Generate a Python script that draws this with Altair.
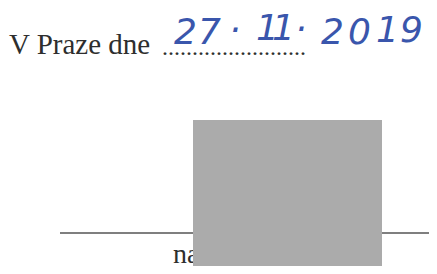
import altair as alt
import pandas as pd

# Printed text (serif, black)
print_labels = ["V Praze dne", "." * 24, "na"]
print_x = [9, 162, 173]
print_y = [54, 55, 263]
print_size = [29, 24, 28]

# Handwritten date "27. 11. 2019" (blue), one written glyph each
hand_labels = ["2", "7", "·", "1", "1", "·", "2", "0", "1", "9"]
hand_x = [174, 198, 229, 256, 272, 295, 321, 348, 376, 400]
hand_y = [44, 44, 42, 40, 40, 41, 44, 44, 42, 42]

# Signature line
line_x = [60]
line_x2 = [437]
line_y = [233]

# Redacted block
block_x = [193]
block_x2 = [382]
block_y = [120]
block_y2 = [274]

W, H = 437, 274
xs = alt.Scale(domain=[8, W - 8], range=[0, W - 16])
ys = alt.Scale(domain=[8, H - 8], range=[0, H - 16])
noax = None

df_print = pd.DataFrame({"t": print_labels, "x": print_x, "y": print_y, "s": print_size})
df_hand = pd.DataFrame({"t": hand_labels, "x": hand_x, "y": hand_y})
df_line = pd.DataFrame({"x": line_x, "x2": line_x2, "y": line_y})
df_block = pd.DataFrame({"x": block_x, "x2": block_x2, "y": block_y, "y2": block_y2})

line = alt.Chart(df_line).mark_rule(color="#555555", strokeWidth=1.5).encode(
    x=alt.X("x:Q", scale=xs, axis=noax),
    x2="x2:Q",
    y=alt.Y("y:Q", scale=ys, axis=noax),
)

printed = alt.Chart(df_print).mark_text(
    font="Liberation Serif", color="#2e2e2e", align="left", baseline="alphabetic"
).encode(
    x=alt.X("x:Q", scale=xs, axis=noax),
    y=alt.Y("y:Q", scale=ys, axis=noax),
    text="t:N",
    size=alt.Size("s:Q", scale=None, legend=None),
)

hand = alt.Chart(df_hand).mark_text(
    font="DejaVu Sans", fontStyle="italic", fontSize=36,
    color="#3a56ac", align="left", baseline="alphabetic"
).encode(
    x=alt.X("x:Q", scale=xs, axis=noax),
    y=alt.Y("y:Q", scale=ys, axis=noax),
    text="t:N",
)

block = alt.Chart(df_block).mark_rect(color="#ababab").encode(
    x=alt.X("x:Q", scale=xs, axis=noax),
    x2="x2:Q",
    y=alt.Y("y:Q", scale=ys, axis=noax),
    y2="y2:Q",
)

chart = alt.layer(line, printed, hand, block).properties(
    width=W - 16, height=H - 16, padding=0, background="white",
    autosize=alt.AutoSizeParams(type="none"),
).configure_view(stroke=None)

chart.save("out.html", embed_options={"renderer": "svg", "actions": False})
